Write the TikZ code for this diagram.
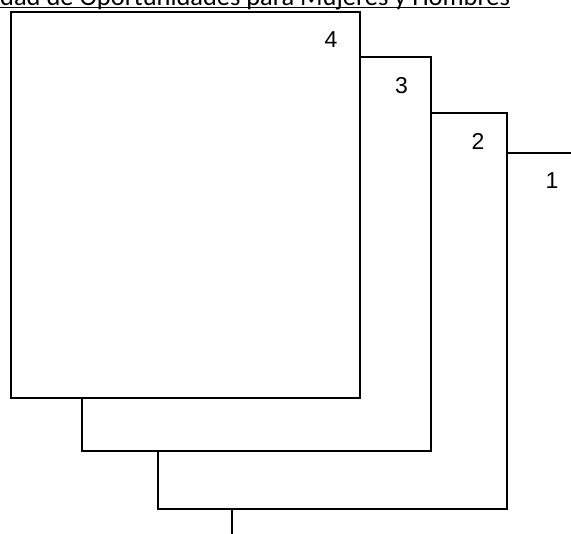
\documentclass[tikz,border=0pt]{standalone}
\usepackage{fontspec}
\setmainfont{Liberation Sans}
\newfontfamily\titlefont{Carlito}

\tikzstyle{page_sheet}=[rectangle,
                        minimum width=349pt,
                        draw=black,
                        line width=2pt,
                        fill=white,
                        inner sep=0pt, ]
\tikzstyle{page_number}=[font=\fontsize{23}{27}\selectfont,
                         inner sep=0pt, ]

\begin{document}
\begin{tikzpicture}[x=1pt, y=-1pt]
  \useasboundingbox (0, 0) rectangle (571, 534);

  % Title
  % -------------------------------------------------------------
  \node at (0, 5.5) (title) [anchor=base west, inner sep=0pt, font=\titlefont\fontsize{26.4}{30}\selectfont] {dad de Oportunidades para Mujeres y Hombres};
  \draw[line width=1pt] ([yshift=-2pt]title.base west) -- ([yshift=-2pt]title.base east);

  % Stacked pages
  % -------------------------------------------------------------
  \foreach \i/\x/\y/\h in {1/406.5/351/396, 2/332.5/311.25/396.5, 3/256/254.25/393.5, 4/185.5/205/386} {
      \node at (\x, \y) (page_\i) [page_sheet, minimum height=\h pt] {};
      \node at ([xshift=-30pt, yshift=-29pt]page_\i.north east) (num_\i) [page_number] {\i};
    }
\end{tikzpicture}
\end{document}
